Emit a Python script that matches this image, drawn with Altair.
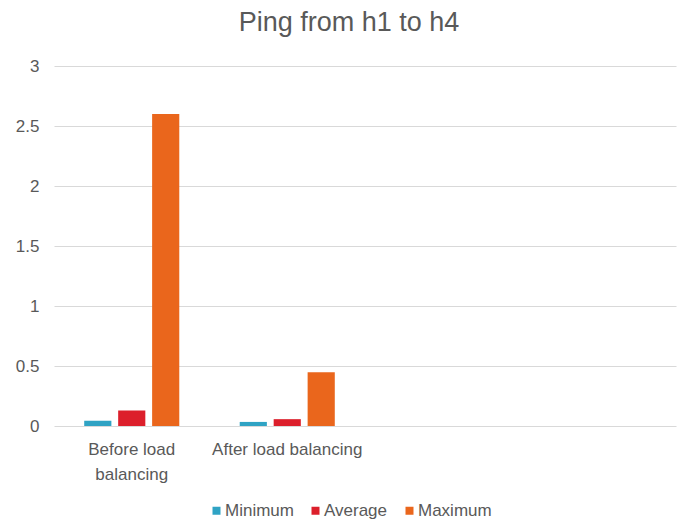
import altair as alt
import pandas as pd

categories = ["Before load balancing", "After load balancing", "c3", "c4"]
series = ["Minimum", "Average", "Maximum"]
before_vals = [0.044, 0.13, 2.6]
after_vals = [0.034, 0.057, 0.447]
colors = ["#2FA3C4", "#DC1F2B", "#EA661C"]

rows = []
for s, v in zip(series, before_vals):
    rows.append({"cat": categories[0], "series": s, "value": v})
for s, v in zip(series, after_vals):
    rows.append({"cat": categories[1], "series": s, "value": v})
df = pd.DataFrame(rows)

FONT = "Liberation Sans Narrow, Arial Narrow, Liberation Sans, sans-serif"
GRAY = "#595959"

chart = alt.Chart(df).mark_bar().encode(
    x=alt.X("cat:N", sort=categories,
            scale=alt.Scale(domain=categories, paddingInner=0, paddingOuter=0),
            axis=alt.Axis(title=None, labelAngle=0, ticks=False, domain=False,
                          labelFontSize=17, labelColor=GRAY, labelFont=FONT,
                          labelPadding=15, labelLineHeight=25,
                          labelExpr="datum.value == 'Before load balancing' ? ['Before load', 'balancing'] : (datum.value == 'After load balancing' ? datum.value : '')")),
    xOffset=alt.XOffset("series:N", sort=series,
                        scale=alt.Scale(domain=series, paddingInner=0.2, paddingOuter=0.89)),
    y=alt.Y("value:Q", scale=alt.Scale(domain=[0, 3]),
            axis=alt.Axis(title=None, values=[0, 0.5, 1, 1.5, 2, 2.5, 3], format="~g",
                          ticks=False, domain=False,
                          gridColor="#D9D9D9", gridWidth=1,
                          labelFontSize=17, labelColor=GRAY, labelFont=FONT, labelPadding=15)),
    color=alt.Color("series:N", sort=series,
                    scale=alt.Scale(domain=series, range=colors),
                    legend=alt.Legend(title=None, orient="none", direction="horizontal",
                                      legendX=154, legendY=436, symbolType="square",
                                      symbolSize=64, symbolStrokeWidth=0,
                                      labelFontSize=17, labelColor=GRAY, labelFont=FONT,
                                      labelOffset=0, columnPadding=13)),
).properties(
    width=622,
    height=360,
    padding={"left": 54, "top": 66, "right": 3, "bottom": 94},
    autosize=alt.AutoSizeParams(type="none"),
    title=alt.TitleParams("Ping from h1 to h4", fontSize=27, font=FONT, color=GRAY,
                          fontWeight="normal", anchor="middle", dx=-16, offset=20),
).configure_view(stroke=None)

chart.save("out.html", embed_options={"renderer": "svg", "actions": False})
